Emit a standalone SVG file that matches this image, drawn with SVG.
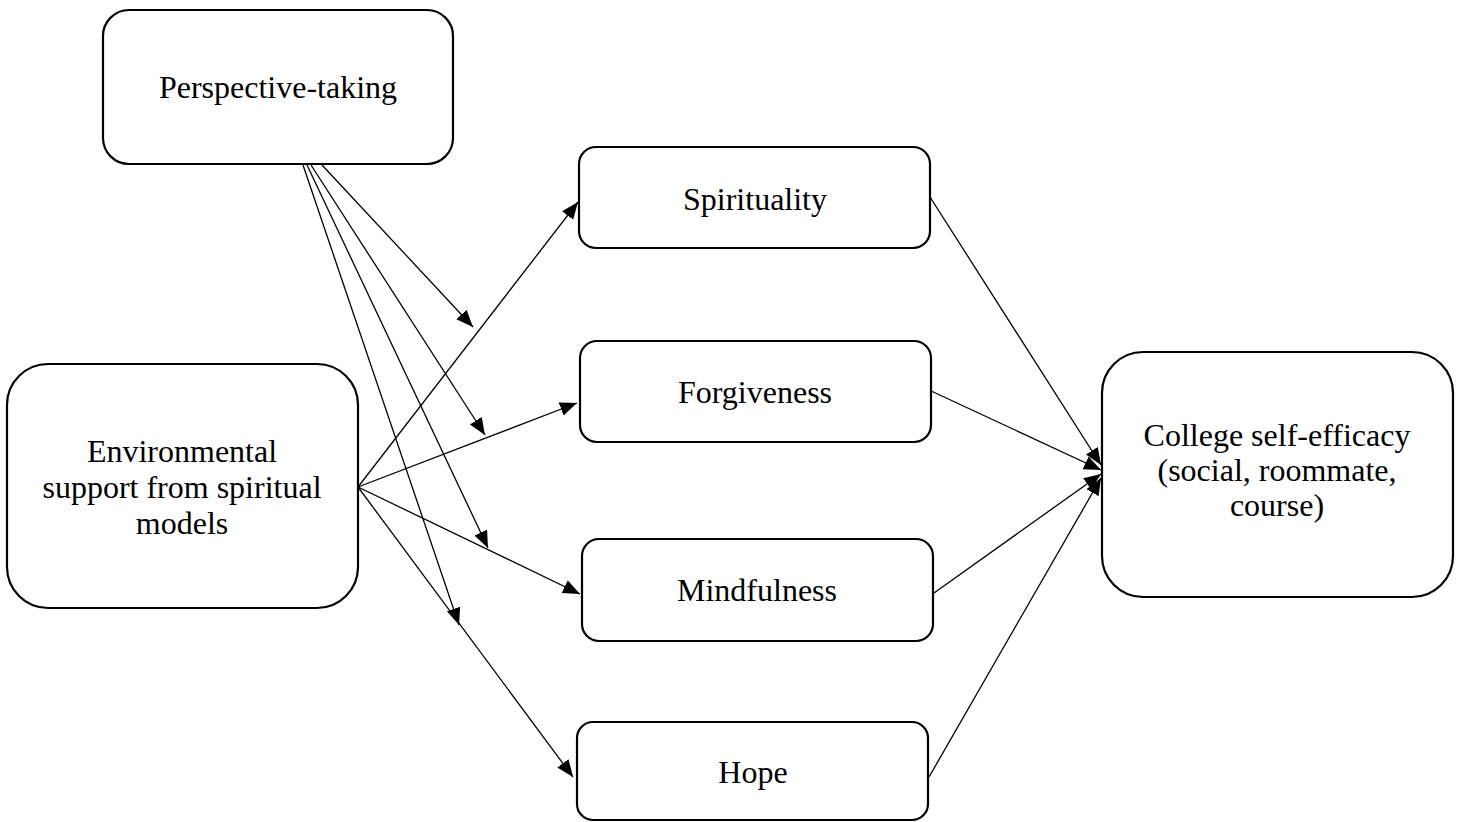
<svg xmlns="http://www.w3.org/2000/svg" width="1461" height="822" viewBox="0 0 1461 822">
<style>
.box{fill:#fff;stroke:#000;stroke-width:2.2}
.lbl{font-family:"Liberation Serif","Times New Roman",serif;font-size:32px;fill:#000;text-anchor:middle}
.ln{stroke:#000;stroke-width:1.3;fill:none;marker-end:url(#ah)}
</style>
<defs>
<marker id="ah" markerUnits="userSpaceOnUse" markerWidth="18" markerHeight="15" refX="17" refY="7" orient="auto">
<path d="M0,0 L17,7 L0,14 z" fill="#000"/>
</marker>
</defs>
<rect width="1461" height="822" fill="#fff"/>
<g id="connectors">
<line class="ln" x1="322" y1="165" x2="473" y2="327"/>
<line class="ln" x1="311" y1="165" x2="485" y2="435"/>
<line class="ln" x1="307" y1="165" x2="488" y2="548"/>
<line class="ln" x1="303" y1="165" x2="459" y2="625"/>
<line class="ln" x1="358" y1="487" x2="578" y2="202"/>
<line class="ln" x1="358" y1="487" x2="577" y2="403"/>
<line class="ln" x1="358" y1="487" x2="580" y2="594"/>
<line class="ln" x1="358" y1="487" x2="573" y2="777"/>
<line class="ln" x1="930" y1="197" x2="1101" y2="465"/>
<line class="ln" x1="929" y1="390" x2="1101" y2="470"/>
<line class="ln" x1="934" y1="593" x2="1101" y2="474"/>
<line class="ln" x1="929" y1="777" x2="1101" y2="478"/>
</g>
<g id="perspective-taking">
<rect class="box" x="103" y="10" width="350" height="154" rx="26" ry="26"/>
<text class="lbl" x="278" y="98">Perspective-taking</text>
</g>
<g id="environmental-support">
<rect class="box" x="7" y="364" width="351" height="244" rx="41" ry="41"/>
<text class="lbl" x="182" y="462">Environmental</text>
<text class="lbl" x="182" y="498">support from spiritual</text>
<text class="lbl" x="182" y="534">models</text>
</g>
<g id="spirituality">
<rect class="box" x="579" y="147" width="351" height="101" rx="17" ry="17"/>
<text class="lbl" x="755" y="210">Spirituality</text>
</g>
<g id="forgiveness">
<rect class="box" x="580" y="341" width="351" height="101" rx="17" ry="17"/>
<text class="lbl" x="755" y="403">Forgiveness</text>
</g>
<g id="mindfulness">
<rect class="box" x="582" y="539" width="351" height="102" rx="17" ry="17"/>
<text class="lbl" x="757" y="601">Mindfulness</text>
</g>
<g id="hope">
<rect class="box" x="577" y="722" width="351" height="98" rx="16" ry="16"/>
<text class="lbl" x="753" y="783">Hope</text>
</g>
<g id="college-self-efficacy">
<rect class="box" x="1102" y="352" width="351" height="245" rx="41" ry="41"/>
<text class="lbl" x="1277" y="446">College self-efficacy</text>
<text class="lbl" x="1277" y="481">(social, roommate,</text>
<text class="lbl" x="1277" y="516">course)</text>
</g>
</svg>
